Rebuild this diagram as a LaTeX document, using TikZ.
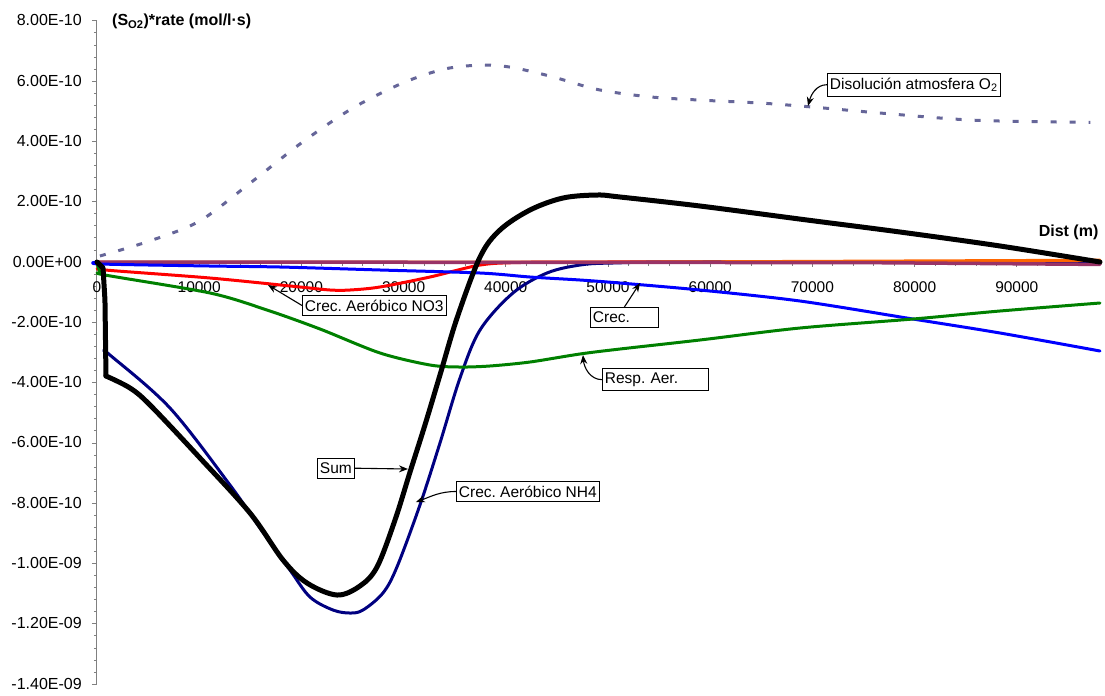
\documentclass[tikz,border=0pt]{standalone}
\usepackage{fontspec}
\setmainfont{Liberation Sans}
\usetikzlibrary{arrows.meta}

\definecolor{dissgray}{HTML}{666699}
\definecolor{plumline}{HTML}{993366}
\definecolor{orangeline}{HTML}{FF6600}
\definecolor{crecblue}{HTML}{0000FF}
\definecolor{aerored}{HTML}{FF0000}
\definecolor{respgreen}{HTML}{008000}
\definecolor{nhnavy}{HTML}{000080}
\definecolor{axisgray}{HTML}{808080}

\tikzset{
  curve/.style={line width=3pt, line join=round, line cap=round},
  callout/.style={draw, line width=0.8pt, fill=white, anchor=north west, align=left,
    inner xsep=2.5pt, inner ysep=4.3pt, font=\fontsize{15.5}{18}\selectfont},
  callarrow/.style={-{Stealth[length=9pt,width=7pt]}, line width=1.1pt},
  ticklab/.style={inner sep=0pt, font=\fontsize{16}{19}\selectfont},
  axistitle/.style={inner sep=0pt, font=\fontsize{16}{19}\selectfont\bfseries}
}

\begin{document}
\frenchspacing
\begin{tikzpicture}[x=102.2pt, y=30.15pt]
\useasboundingbox (-0.949,-14.362) rectangle (9.863,8.690);

    % --- Axes and ticks ---
    \draw[axisgray, line width=1pt] (0,8) -- (0,-14);
    \draw[axisgray, line width=1pt] (0,0) -- (9.814,0);
    \foreach \i in {0,...,55}
        \draw[axisgray, line width=0.8pt] (-0.03,{-14+0.4*\i}) -- (0,{-14+0.4*\i});
    \foreach \v in {-14,-12,...,8}
        \draw[axisgray, line width=0.8pt] (-0.05,\v) -- (0,\v);
    \foreach \i in {0,...,49}
        \draw[axisgray, line width=0.8pt] ({0.2*\i},0) -- ({0.2*\i},-0.12);
    \foreach \k in {0,...,9}
        \draw[axisgray, line width=0.8pt] (\k,0) -- (\k,-0.17);

    % --- Tick labels ---
    \foreach \v/\lab [count=\i] in {8/8.00E-10, 6/6.00E-10, 4/4.00E-10, 2/2.00E-10,
        0/0.00E+00, -2/-2.00E-10, -4/-4.00E-10, -6/-6.00E-10, -8/-8.00E-10,
        -10/-1.00E-09, -12/-1.20E-09, -14/-1.40E-09}
        \node[ticklab, anchor=base east] (yl\i) at (-0.147,\v-0.166) {\lab};
    \foreach \k/\lab in {0/0, 1/10000, 2/20000, 3/30000, 4/40000, 5/50000,
        6/60000, 7/70000, 8/80000, 9/90000}
        \node[ticklab, anchor=base, font=\fontsize{15.5}{18}\selectfont] (xl\k) at (\k,-0.995) {\lab};

    % --- Axis titles ---
    \node[axistitle, anchor=base west] (ytitle) at (0.147,7.828) {(S\textsubscript{O2})*rate (mol/l·s)};
    \node[axistitle, anchor=base east] (xtitle) at (9.80,0.83) {Dist (m)};

    % --- Dissolution (dashed) ---
    \draw[curve, dissgray, line cap=butt, dash pattern=on 6pt off 13pt] plot[smooth] coordinates {
        (0.029,0.2) (0.5,0.68) (1.0,1.35) (1.5,2.62) (2.0,3.95) (2.5,5.1)
        (3.0,5.95) (3.4,6.4) (3.75,6.53) (4.05,6.46) (4.45,6.15) (4.9,5.72)
        (5.4,5.48) (5.9,5.37) (6.5,5.27) (7.0,5.14) (7.7,4.93) (8.6,4.7) (9.72,4.63)};

    % --- NO3 growth ---
    \draw[curve, aerored] plot[smooth, tension=0.5] coordinates {
        (0,0) (0.029,-0.199) (0.078,-0.265) (1.106,-0.531) (1.986,-0.829)
        (2.280,-0.929) (2.476,-0.929) (2.769,-0.829) (3.258,-0.498)
        (3.748,-0.100) (4.139,-0.017) (4.922,0) (9.814,0)};

    % --- NH4 growth ---
    \draw[curve, nhnavy] plot[smooth, tension=0.55] coordinates {
        (0.078,-2.985) (0.127,-3.085) (0.714,-4.842) (1.301,-7.396)
        (1.595,-8.822) (1.888,-10.216) (2.084,-11.111) (2.309,-11.542)
        (2.476,-11.642) (2.603,-11.542) (2.798,-10.978) (2.935,-10.116)
        (3.160,-8.060) (3.356,-6.003) (3.552,-3.847) (3.748,-2.255)
        (4.070,-1.028) (4.403,-0.365) (4.726,-0.100) (5.049,-0.033)
        (5.900,0) (9.814,0)};

    % --- Near-zero series ---
    \draw[curve, orangeline] (0,0) -- (5.5,0) -- (9.814,0.06);
    \draw[curve, plumline, line width=3.5pt] (0,0) -- (7.5,-0.02) -- (9.814,-0.08);

    % --- Growth ---
    \draw[curve, crecblue] plot[smooth, tension=0.5] coordinates {
        (0,0) (0.03,-0.066) (1.106,-0.133) (1.791,-0.166) (2.769,-0.265)
        (3.748,-0.365) (4.237,-0.498) (4.726,-0.597) (5.117,-0.697)
        (5.900,-0.929) (6.879,-1.294) (7.984,-1.891) (8.836,-2.355) (9.814,-2.952)};

    % --- Aerobic respiration ---
    \draw[curve, respgreen] plot[smooth, tension=0.5] coordinates {
        (0,0) (0.029,-0.332) (0.078,-0.431) (1.106,-1.028) (1.663,-1.592)
        (2.182,-2.222) (2.769,-3.018) (3.258,-3.416) (3.552,-3.483)
        (3.845,-3.449) (4.237,-3.317) (4.726,-3.051) (5.117,-2.886)
        (5.900,-2.587) (6.879,-2.189) (7.984,-1.891) (8.836,-1.625) (9.814,-1.360)};

    % --- Sum ---
    \draw[curve, black, line width=5pt] (0,0) -- (0.059,-0.199) -- (0.078,-1.260) -- (0.088,-3.781);
    \draw[curve, black, line width=5pt] plot[smooth, tension=0.55] coordinates {
        (0.088,-3.781) (0.323,-4.179) (0.519,-4.743) (1.008,-6.501)
        (1.497,-8.325) (1.820,-9.884) (2.055,-10.647) (2.348,-11.045)
        (2.573,-10.746) (2.740,-10.116) (2.916,-8.557) (3.063,-6.965)
        (3.209,-5.406) (3.356,-3.748) (3.523,-1.857) (3.748,0.166)
        (3.943,1.061) (4.237,1.725) (4.560,2.123) (4.892,2.222)
        (5.117,2.156) (5.900,1.857) (6.947,1.393) (7.857,0.995)
        (8.836,0.531) (9.814,0)};

    % --- Callouts ---
    \node[callout] (diso) at (7.143,6.269) {Disolución atmosfera O\textsubscript{2}};
    \node[callout] (crecno) at (2.006,-1.095) {Crec. Aeróbico NO3};
    \node[callout, text width=63pt] (crec) at (4.824,-1.493) {Crec.};
    \node[callout, text width=101pt] (resp) at (4.941,-3.516) {Resp. Aer.};
    \node[callout] (sum) at (2.153,-6.501) {Sum};
    \node[callout] (crecnh) at (3.513,-7.264) {Crec. Aeróbico NH4};

    \coordinate (disoTip) at (6.957,5.174);
    \coordinate (crecnoTip) at (1.673,-0.763);
    \coordinate (crecTip) at (5.313,-0.697);
    \coordinate (respTip) at (4.755,-3.085);
    \coordinate (sumTip) at (3.043,-6.866);
    \coordinate (crecnhTip) at (3.121,-7.960);

    \draw[callarrow] (diso.west) to[out=180, in=75] (disoTip);
    \draw[callarrow] (crecno.west) -- (crecnoTip);
    \draw[callarrow] (crec.north) -- (crecTip);
    \draw[callarrow] (resp.west) to[out=180, in=-85] (respTip);
    \draw[callarrow] (sum.east) -- (sumTip);
    \draw[callarrow] (crecnh.west) to[out=180, in=20] (crecnhTip);

\end{tikzpicture}
\end{document}
